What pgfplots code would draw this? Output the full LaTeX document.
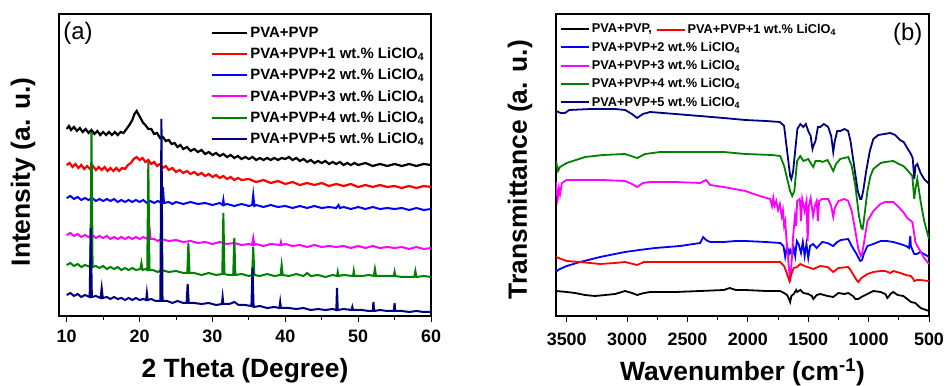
\documentclass[border=0pt]{standalone}
\usepackage{fontspec}
\setmainfont{Liberation Sans}
\usepackage{pgfplots}
\pgfplotsset{compat=1.18}
\definecolor{cblack}{RGB}{0,0,0}
\definecolor{cred}{RGB}{255,0,0}
\definecolor{cblue}{RGB}{0,0,255}
\definecolor{cmag}{RGB}{255,0,255}
\definecolor{cgreen}{RGB}{0,128,0}
\definecolor{cnavy}{RGB}{0,0,128}
\pgfplotsset{
  myaxis/.style={
    scale only axis,
    axis line style={line width=1.3bp},
    tick style={line width=1bp, black},
    tick align=outside,
    xtick pos=left,
    ytick=\empty,
    major tick length=6bp,
    minor tick length=3.5bp,
    ticklabel style={font=\bfseries\fontsize{18}{18}\selectfont},
    /pgf/number format/assume math mode=true,
    /pgf/number format/1000 sep={},
    label style={font=\bfseries\fontsize{26.5}{26.5}\selectfont},
    legend cell align=left,
    clip=true,
  },
}
\begin{document}
\begin{tikzpicture}
\path[use as bounding box] (0,0) rectangle (946bp,386bp);
% ---------------- panel (a) ----------------
\begin{axis}[myaxis,
  at={(59bp,70bp)}, anchor=south west,
  width=372bp, height=302bp,
  xmin=8.94, xmax=60, ymin=0, ymax=302,
  xtick={10,20,...,60}, minor xtick={15,25,...,55},
  xticklabel style={yshift=-4bp},
  xlabel={2 Theta (Degree)},
  ylabel={Intensity (a. u.)},
  xlabel style={at={(axis description cs:0.5,-0.202)}, anchor=base},
  ylabel style={at={(axis description cs:-0.078,0.477)}, anchor=base},
  legend style={at={(axis description cs:0.409,0.965)}, anchor=north west,
    draw=none, fill=none, inner sep=0pt, row sep=5bp,
    font=\bfseries\fontsize{15}{15}\selectfont,
    nodes={inner sep=2bp}},
  legend image code/.code={\draw[#1,line width=2bp] (0bp,0bp) -- (35bp,0bp);},
]
\addplot[cblack, line width=2.2bp] coordinates {
(10,187)(10.3,190)(10.6,186)(11,189)(11.4,185)(11.8,188)(12.2,184)(12.6,187)(13,183)(13.4,186)(13.8,182)(14.2,185)(14.6,181)(15,184)(15.4,181)(15.8,184)(16.2,181)(16.6,184)(17,181)(17.4,184)(17.8,183)(18.2,187)(18.6,191)(19,196)(19.3,202)(19.6,205)(19.9,201)(20.2,197)(20.5,193)(20.8,191)(21.2,187)(21.6,187)(22,182)(22.4,183)(22.8,178)(23.2,179)(23.6,175)(24,176)(24.4,172)(24.8,173)(25.2,169)(25.6,171)(26,167)(26.5,169)(27,165)(27.5,167)(28,164)(28.5,166)(29,162)(29.5,164)(30,161)(30.5,163)(31,160)(31.5,162)(32,159)(32.5,161)(33,158)(33.5,160)(34,157)(34.5,159)(35,157)(35.5,159)(36,156)(36.5,158)(37,156)(37.5,158)(38,156)(38.5,158)(39,156)(39.5,158)(40,157)(40.5,159)(41,156)(41.5,158)(42,155)(42.5,157)(43,154)(43.5,156)(44,153)(44.5,155)(45,153)(45.5,155)(46,152)(46.5,154)(47,152)(47.5,154)(48,151)(48.5,153)(49,151)(49.5,153)(50,151)(51,153)(52,150)(53,152)(54,150)(55,152)(56,150)(57,152)(58,150)(59,152)(60,151)
};
\addlegendentry{PVA+PVP}
\addplot[cred, line width=2.2bp] coordinates {
(10,151)(10.4,153)(10.8,149)(11.2,152)(11.6,148)(12,151)(12.4,147)(12.8,150)(13.2,147)(13.6,150)(14,146)(14.4,149)(14.8,146)(15.2,149)(15.6,145)(16,148)(16.4,145)(16.8,148)(17.2,145)(17.6,148)(18,147)(18.4,151)(18.8,153)(19.2,157)(19.6,159)(20,156)(20.4,158)(20.8,154)(21.2,156)(21.6,152)(22,154)(22.4,150)(22.8,152)(23.2,148)(23.6,150)(24,146)(24.5,148)(25,144)(25.5,146)(26,143)(26.5,145)(27,142)(27.5,144)(28,141)(28.5,143)(29,140)(29.5,142)(30,139)(30.5,141)(31,138)(31.5,140)(32,137)(32.5,139)(33,136)(33.5,138)(34,136)(35,137)(36,134)(37,136)(38,133)(39,135)(40,132)(41,134)(42,131)(43,133)(44,131)(45,133)(46,130)(47,132)(48,130)(49,132)(50,129)(51,131)(52,129)(53,131)(54,129)(55,130)(56,128)(57,130)(58,128)(59,130)(60,129)
};
\addlegendentry{PVA+PVP+1 wt.\% LiClO\textsubscript{4}}
\addplot[cblue, line width=2bp] coordinates {
(10,118)(10.5,120)(11,117)(11.5,119)(12,116)(12.5,118)(13,116)(13.5,118)(14,115)(14.5,117)(15,115)(15.5,117)(16,115)(16.5,117)(17,114)(17.5,116)(18,114)(18.5,116)(19,114)(19.5,116)(20,114)(20.5,116)(21,113)(21.5,115)(22,113)(22.5,115)(23.05,113)(23.2,129)(23.35,113)(24,114)(24.5,112)(25,114)(26,112)(27,114)(28,112)(29,113)(30,111)(31,113)(31.4,111)(31.5,116)(31.6,111)(32,112)(33,110)(34,112)(35,110)(35.45,111)(35.6,121)(35.75,110)(36,111)(37,109)(38,111)(39,109)(40,110)(41,108)(42,110)(43,108)(44,110)(45,108)(46,109)(47,108)(47.3,111)(47.5,108)(48,109)(49,107)(50,109)(51,107)(52,109)(53,107)(54,108)(55,107)(56,108)(57,106)(58,108)(59,106)(60,107)
};
\addlegendentry{PVA+PVP+2 wt.\% LiClO\textsubscript{4}}
\addplot[cmag, line width=2bp] coordinates {
(10,81)(10.5,83)(11,80)(11.5,82)(12,79)(12.5,81)(13,79)(13.5,81)(14,78)(14.5,80)(15,78)(15.5,80)(16,77)(16.5,79)(17,77)(17.5,79)(18,77)(18.5,79)(19,77)(19.5,79)(20,77)(20.5,79)(21.1,77)(21.3,93)(21.5,77)(22,77)(22.5,75)(23,77)(24,75)(25,76)(26,74)(27,75)(28,73)(29,74)(30,72)(31,74)(32,72)(33,73)(34,71)(35,72)(35.45,71)(35.6,78)(35.75,71)(36,72)(37,70)(38,72)(39.3,71)(39.4,74)(39.5,71)(40,72)(41,70)(42,71)(43,69)(44,71)(45,69)(46,70)(47,69)(48,70)(49,68)(50,70)(51,68)(52,70)(53,68)(54,69)(55,68)(56,69)(57,67)(58,69)(59,67)(60,68)
};
\addlegendentry{PVA+PVP+3 wt.\% LiClO\textsubscript{4}}
\addplot[cgreen, line width=2bp] coordinates {
(10,51)(10.5,53)(11,50)(11.5,52)(12,49)(12.5,51)(13.25,49)(13.4,184)(13.55,49)(14,50)(14.5,48)(15,50)(15.5,47)(16,49)(16.5,47)(17,49)(17.5,46)(18,48)(18.5,46)(19,48)(19.5,46)(20.1,47)(20.25,53)(20.4,46)(20.8,47)(21.05,46)(21.2,154)(21.35,46)(21.8,46)(22.5,44)(23,46)(24,44)(25,45)(26,43)(26.55,43)(26.7,73)(26.85,43)(27.5,43)(28.5,41)(29.5,43)(30.5,41)(31.35,42)(31.5,103)(31.65,42)(32.2,41)(32.85,41)(33,78)(33.15,41)(34,42)(35,40)(35.45,41)(35.6,69)(35.75,41)(36.5,40)(37.5,42)(38.5,40)(39.35,41)(39.5,51)(39.65,41)(40.5,40)(41.5,42)(42.5,40)(43,43)(43.5,40)(44.5,41)(45.5,39)(46.5,41)(47.1,40)(47.2,44)(47.3,40)(48,41)(49.3,40)(49.4,45)(49.5,40)(50.5,40)(51.5,41)(52.15,40)(52.3,47)(52.45,40)(53.5,40)(54.9,40)(55,44)(55.1,40)(56,39)(57.7,39)(57.85,45)(58,39)(59,40)(60,39)
};
\addlegendentry{PVA+PVP+4 wt.\% LiClO\textsubscript{4}}
\addplot[cnavy, line width=2bp] coordinates {
(10,21)(10.5,23)(11,20)(11.5,22)(12,19)(12.5,21)(13.15,19)(13.3,88)(13.45,19)(14,20)(14.65,18)(14.8,28)(14.95,18)(15.5,19)(16,17)(16.5,19)(17,17)(17.5,18)(18,16)(18.5,18)(19,16)(19.5,18)(20,16)(20.5,17)(20.9,16)(21,23)(21.1,16)(21.6,17)(22.2,15)(22.85,15)(23,197)(23.15,15)(23.8,15)(24.5,13)(25.2,15)(26,13)(26.45,13)(26.6,32)(26.75,13)(27.5,13)(28.5,12)(29.5,13)(30.5,11)(31.3,12)(31.4,19)(31.5,12)(32.3,12)(33,14)(33.6,11)(34.5,11)(35.35,10)(35.5,48)(35.65,9)(36.5,10)(37.5,8)(38.5,9)(39.2,8)(39.3,14)(39.4,8)(40.5,8)(41.5,7)(42.5,8)(43.5,6)(44.5,7)(45.5,6)(46.5,7)(47,6)(47.1,28)(47.2,6)(48,7)(49.1,6)(49.2,9)(49.3,6)(50.5,6)(51.5,5)(52,5)(52.1,14)(52.2,5)(53,6)(54,5)(54.9,5)(55,13)(55.1,5)(56,5)(57,4)(58,5)(59,4)(60,4)
};
\addlegendentry{PVA+PVP+5 wt.\% LiClO\textsubscript{4}}
\node[font=\fontsize{24}{24}\selectfont, anchor=center] at (axis description cs:0.051,0.937) {(a)};
\end{axis}
% ---------------- panel (b) ----------------
\begin{axis}[myaxis,
  at={(556bp,70bp)}, anchor=south west,
  width=373bp, height=302bp,
  x dir=reverse,
  xmin=500, xmax=3589, ymin=0, ymax=302,
  xtick={500,1000,...,3500}, minor xtick={750,1250,...,3250},
  xticklabel style={yshift=-7bp},
  xlabel={Wavenumber (cm\textsuperscript{-1})},
  ylabel={Transmittance (a. u.)},
  xlabel style={at={(axis description cs:0.5,-0.212)}, anchor=base},
  ylabel style={at={(axis description cs:-0.078,0.485)}, anchor=base},
  legend style={at={(axis description cs:0.011,0.972)}, anchor=north west,
    draw=none, fill=none, inner sep=0pt, row sep=4.6bp,
    font=\bfseries\fontsize{12.8}{12.8}\selectfont,
    nodes={inner sep=1.5bp}},
  legend image code/.code={\draw[#1,line width=2bp] (0bp,0bp) -- (28bp,0bp);},
]
\addplot[cblack, line width=1.8bp] coordinates {
(3589,25)(3500,24)(3431,23)(3350,21)(3265,20)(3180,21)(3100,22)(3017,25)(2960,23)(2917,21)(2860,23)(2810,24)(2600,24)(2395,25)(2200,26)(2150,28)(2100,26)(2022,26)(1850,25)(1732,25)(1700,23)(1675,21)(1660,17)(1650,14)(1640,20)(1620,22)(1600,26)(1592,24)(1566,26)(1540,23)(1500,22)(1470,20)(1458,17)(1430,21)(1400,22)(1370,21)(1340,20)(1293,19)(1250,23)(1200,22)(1169,23)(1130,20)(1110,17)(1085,17)(1060,19)(1010,22)(961,25)(900,24)(862,22)(845,18)(830,20)(820,22)(796,24)(760,21)(713,20)(680,17)(650,14)(613,13)(570,8)(500,5)
};
\addlegendentry{PVA+PVP,\hspace{52bp}}
\addplot[cblue, line width=1.8bp] coordinates {
(3589,44)(3572,46)(3556,47)(3500,50)(3390,54)(3224,59)(3017,64)(2900,66)(2768,68)(2561,70)(2395,73)(2370,79)(2346,76)(2312,74)(2200,74)(2100,75)(2022,75)(1850,74)(1732,73)(1705,70)(1691,59)(1675,70)(1660,62)(1650,66)(1633,60)(1620,68)(1608,60)(1595,75)(1580,72)(1560,63)(1545,74)(1530,60)(1515,72)(1500,58)(1485,70)(1460,72)(1430,68)(1400,72)(1384,74)(1340,73)(1310,71)(1293,70)(1260,74)(1230,76)(1169,77)(1140,70)(1100,62)(1070,55)(1055,56)(1040,62)(1010,70)(961,72)(900,75)(850,75)(796,74)(738,72)(690,70)(665,68)(655,80)(650,70)(630,64)(622,62)(600,62)(572,64)(540,62)(500,59)
};
\addlegendentry{PVA+PVP+2 wt.\% LiClO\textsubscript{4}}
\addplot[cmag, line width=1.8bp] coordinates {
(3589,134)(3585,125)(3575,117)(3565,128)(3555,122)(3540,133)(3500,136)(3390,136)(3200,136)(3017,135)(2960,132)(2917,129)(2870,133)(2810,134)(2600,134)(2395,133)(2346,136)(2312,131)(2200,129)(2022,125)(1900,120)(1815,117)(1800,110)(1790,118)(1780,110)(1765,115)(1750,106)(1735,112)(1720,100)(1710,106)(1700,90)(1690,95)(1680,75)(1665,55)(1650,34)(1640,50)(1625,80)(1610,100)(1600,90)(1592,115)(1570,117)(1560,95)(1550,117)(1530,105)(1515,115)(1505,75)(1495,110)(1480,118)(1460,100)(1445,110)(1430,115)(1420,95)(1410,115)(1384,117)(1360,117)(1334,117)(1310,110)(1293,99)(1280,108)(1250,115)(1200,117)(1169,115)(1140,105)(1110,85)(1085,67)(1065,60)(1055,62)(1040,72)(1010,95)(961,105)(903,112)(862,114)(796,114)(760,110)(713,104)(680,98)(638,94)(622,82)(613,74)(597,70)(572,65)(540,58)(500,52)
};
\addlegendentry{PVA+PVP+3 wt.\% LiClO\textsubscript{4}}
\addplot[cgreen, line width=1.8bp] coordinates {
(3589,155)(3572,145)(3556,149)(3500,153)(3348,159)(3200,161)(3017,162)(2917,158)(2850,162)(2727,164)(2400,164)(2200,164)(2022,162)(1800,161)(1732,160)(1700,150)(1670,135)(1650,125)(1633,120)(1615,125)(1600,145)(1592,155)(1566,160)(1540,155)(1500,157)(1470,151)(1458,149)(1440,155)(1400,155)(1384,154)(1340,156)(1293,145)(1270,152)(1235,157)(1169,159)(1140,150)(1110,130)(1080,100)(1060,88)(1050,87)(1040,95)(1010,125)(985,140)(961,147)(900,153)(862,154)(796,155)(750,152)(713,150)(680,146)(638,140)(630,128)(622,117)(615,125)(597,137)(570,115)(540,95)(500,77)
};
\addlegendentry{PVA+PVP+4 wt.\% LiClO\textsubscript{4}}
\addplot[cnavy, line width=1.8bp] coordinates {
(3589,205)(3550,203)(3514,203)(3480,206)(3300,207)(3100,207)(3017,206)(2960,202)(2917,198)(2870,202)(2810,204)(2600,202)(2400,200)(2200,198)(2022,196)(1850,195)(1735,194)(1700,190)(1670,160)(1650,140)(1640,137)(1625,145)(1600,175)(1590,187)(1565,192)(1540,189)(1520,192)(1500,185)(1480,180)(1465,167)(1458,170)(1440,175)(1420,189)(1400,189)(1370,192)(1335,189)(1310,180)(1293,164)(1280,175)(1260,185)(1235,185)(1200,187)(1170,185)(1150,175)(1120,150)(1090,125)(1070,117)(1060,117)(1045,125)(1020,145)(990,165)(961,177)(920,181)(870,182)(820,183)(780,181)(740,176)(710,174)(680,168)(650,162)(635,158)(622,137)(612,150)(597,152)(570,143)(540,137)(500,132)
};
\addlegendentry{PVA+PVP+5 wt.\% LiClO\textsubscript{4}}
\node[font=\fontsize{24}{24}\selectfont, anchor=center] at (axis description cs:0.943,0.934) {(b)};
\end{axis}
% overlay axis for the red FTIR curve (its own legend entry on the first row)
\begin{axis}[
  scale only axis, hide axis,
  at={(556bp,70bp)}, anchor=south west,
  width=373bp, height=302bp,
  x dir=reverse,
  xmin=500, xmax=3589, ymin=0, ymax=302,
  legend style={at={(axis description cs:0.268,0.972)}, anchor=north west,
    draw=none, fill=none, inner sep=0pt,
    font=\bfseries\fontsize{12.8}{12.8}\selectfont,
    nodes={inner sep=1.5bp}},
  legend image code/.code={\draw[#1,line width=2bp] (0bp,0bp) -- (28bp,0bp);},
  legend cell align=left,
]
\addplot[cred, line width=1.8bp] coordinates {
(3589,59)(3500,55)(3390,54)(3224,52)(3100,53)(3017,54)(2917,51)(2860,54)(2810,54)(2500,54)(2200,54)(2022,54)(1850,54)(1732,54)(1700,50)(1670,40)(1655,35)(1640,42)(1620,48)(1592,49)(1566,52)(1530,50)(1458,47)(1400,50)(1340,49)(1293,44)(1250,48)(1169,49)(1150,46)(1120,40)(1100,36)(1085,34)(1060,38)(1010,42)(961,44)(900,45)(862,45)(820,43)(796,45)(738,43)(690,41)(650,40)(630,37)(622,35)(600,36)(572,36)(500,35)
};
\addlegendentry{PVA+PVP+1 wt.\% LiClO\textsubscript{4}}
\end{axis}
\end{tikzpicture}
\end{document}
